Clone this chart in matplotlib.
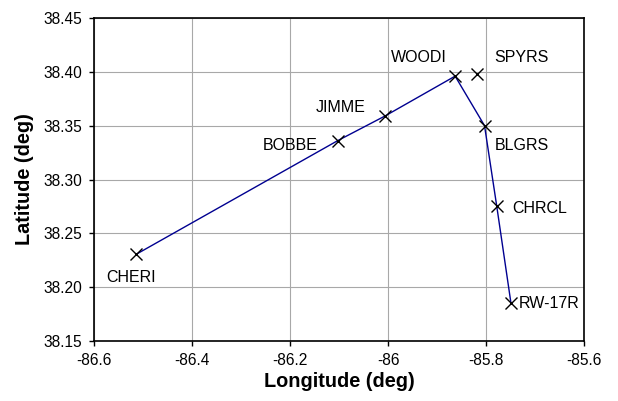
import matplotlib
matplotlib.use("Agg")
import matplotlib.pyplot as plt

plt.rcParams['font.family'] = ['Liberation Sans', 'DejaVu Sans']

# Waypoints along the approach
names = ["CHERI", "BOBBE", "JIMME", "WOODI", "SPYRS", "BLGRS", "CHRCL", "RW-17R"]
lon = [-86.514, -86.103, -86.006, -85.863, -85.819, -85.803, -85.778, -85.749]
lat = [38.2305, 38.336, 38.359, 38.396, 38.398, 38.350, 38.275, 38.185]
# Route flown (SPYRS is shown but not on the path)
route = ["CHERI", "BOBBE", "JIMME", "WOODI", "BLGRS", "CHRCL", "RW-17R"]

xticks = [-86.6, -86.4, -86.2, -86.0, -85.8, -85.6]
xticklabels = ["-86.6", "-86.4", "-86.2", "-86", "-85.8", "-85.6"]
yticks = [38.15, 38.20, 38.25, 38.30, 38.35, 38.40, 38.45]

# label offsets in points and alignment
label_style = {
    "CHERI": ((-4, -16.5), "center"),
    "BOBBE": ((-14.5, -3.5), "right"),
    "JIMME": ((-14, 6), "right"),
    "WOODI": ((-6, 13.5), "right"),
    "SPYRS": ((12.5, 12), "left"),
    "BLGRS": ((7, -14.5), "left"),
    "CHRCL": ((11, -1.5), "left"),
    "RW-17R": ((5.5, 0), "left"),
}

fig = plt.figure(figsize=(6.18, 4.01), dpi=100)
ax = fig.add_axes([94 / 618, 60 / 401, 490 / 618, 323 / 401])

idx = {n: i for i, n in enumerate(names)}
rx = [lon[idx[n]] for n in route]
ry = [lat[idx[n]] for n in route]
ax.plot(rx, ry, color="#000090", lw=1.0, zorder=2)
ax.plot(lon, lat, linestyle="none", marker="x", markersize=9, mew=1.0,
        color="black", zorder=3)

for n, x, y in zip(names, lon, lat):
    off, ha = label_style[n]
    ax.annotate(n, (x, y), xytext=off, textcoords="offset points",
                ha=ha, va="center", fontsize=11.5, color="black")

ax.set_xlim(-86.6, -85.6)
ax.set_ylim(38.15, 38.45)
ax.set_xticks(xticks)
ax.set_xticklabels(xticklabels)
ax.set_yticks(yticks)
ax.set_yticklabels([f"{v:.2f}" for v in yticks])
ax.tick_params(direction="out", length=3.6, width=1, labelsize=11.2, pad=5)
ax.grid(True, color="#a8a8a8", lw=0.8, zorder=0)
ax.set_axisbelow(True)
for s in ax.spines.values():
    s.set_linewidth(1.2)
    s.set_color("black")

ax.set_xlabel("Longitude (deg)", fontsize=14.3, fontweight="bold", labelpad=3)
ax.set_ylabel("Latitude (deg)", fontsize=14.3, fontweight="bold", labelpad=7)

fig.savefig("out.png", dpi=100)
